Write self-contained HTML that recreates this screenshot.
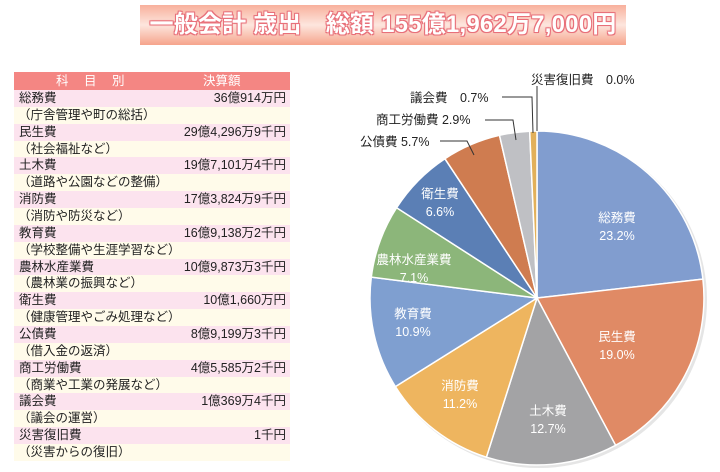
<!DOCTYPE html>
<html><head><meta charset="utf-8"><style>
body{margin:0;width:720px;height:472px;background:#fff;position:relative;overflow:hidden;font-family:"Liberation Sans","Noto Sans CJK JP",sans-serif;}
#title{position:absolute;left:140px;top:5px;width:486px;height:40px;background:linear-gradient(#f8b09c,#fde6de 50%,#f6a48c);color:#fff;font-weight:bold;font-size:24px;line-height:40px;text-align:center;white-space:nowrap;letter-spacing:0.2px;text-shadow:-1px -1px 0 #e8707a,1px -1px 0 #e8707a,-1px 1px 0 #e8707a,1px 1px 0 #e8707a,0 0 2px #e8707a;}
#tbl{position:absolute;left:14px;top:72px;width:276px;}
.h{height:18px;background:#f48683;color:#fff;font-size:12.5px;line-height:18px;position:relative;}
.r{height:16.86px;font-size:12.5px;line-height:17px;color:#222;position:relative;white-space:nowrap;}
.a{background:#fce3ee;}.b{background:#fffbea;}
.r span{position:absolute;right:4px;top:0;}
.r i{font-style:normal;position:absolute;left:5px;}
.b i{left:4px;}
</style></head><body>
<div id="title">一般会計 歳出　総額 155億1,962万7,000円</div>
<div id="tbl">
<div class="h"><span style="position:absolute;left:42px;letter-spacing:6px">科 目 別</span><span style="position:absolute;left:189px">決算額</span></div>
<div class="r a"><i>総務費</i><span>36億914万円</span></div>
<div class="r b"><i>（庁舎管理や町の総括）</i></div>
<div class="r a"><i>民生費</i><span>29億4,296万9千円</span></div>
<div class="r b"><i>（社会福祉など）</i></div>
<div class="r a"><i>土木費</i><span>19億7,101万4千円</span></div>
<div class="r b"><i>（道路や公園などの整備）</i></div>
<div class="r a"><i>消防費</i><span>17億3,824万9千円</span></div>
<div class="r b"><i>（消防や防災など）</i></div>
<div class="r a"><i>教育費</i><span>16億9,138万2千円</span></div>
<div class="r b"><i>（学校整備や生涯学習など）</i></div>
<div class="r a"><i>農林水産業費</i><span>10億9,873万3千円</span></div>
<div class="r b"><i>（農林業の振興など）</i></div>
<div class="r a"><i>衛生費</i><span>10億1,660万円</span></div>
<div class="r b"><i>（健康管理やごみ処理など）</i></div>
<div class="r a"><i>公債費</i><span>8億9,199万3千円</span></div>
<div class="r b"><i>（借入金の返済）</i></div>
<div class="r a"><i>商工労働費</i><span>4億5,585万2千円</span></div>
<div class="r b"><i>（商業や工業の発展など）</i></div>
<div class="r a"><i>議会費</i><span>1億369万4千円</span></div>
<div class="r b"><i>（議会の運営）</i></div>
<div class="r a"><i>災害復旧費</i><span>1千円</span></div>
<div class="r b"><i>（災害からの復旧）</i></div>
</div>
<svg width="720" height="472" style="position:absolute;left:0;top:0" font-family="Liberation Sans, Noto Sans CJK JP, sans-serif" font-size="12.5">
<circle cx="539" cy="300" r="168" fill="#ccc" opacity="0.5"/>
<g stroke="#fff" stroke-width="1.5">
<path d="M537,298 L537,131 A167,167 0 0 1 702.9,279.1Z" fill="#819dcf"/>
<path d="M537,298 L702.9,279.1 A167,167 0 0 1 615.6,445.3Z" fill="#e08a65"/>
<path d="M537,298 L615.6,445.3 A167,167 0 0 1 486.4,457.2Z" fill="#a3a3a5"/>
<path d="M537,298 L486.4,457.2 A167,167 0 0 1 395.4,386.6Z" fill="#eeb55f"/>
<path d="M537,298 L395.4,386.6 A167,167 0 0 1 371.3,277.1Z" fill="#7f9fd0"/>
<path d="M537,298 L371.3,277.1 A167,167 0 0 1 396.6,207.7Z" fill="#8cb67a"/>
<path d="M537,298 L396.6,207.7 A167,167 0 0 1 444.9,158.7Z" fill="#5b7fb5"/>
<path d="M537,298 L444.9,158.7 A167,167 0 0 1 499.5,135.3Z" fill="#cf7c50"/>
<path d="M537,298 L499.5,135.3 A167,167 0 0 1 529.7,131.2Z" fill="#bfc0c4"/>
<path d="M537,298 L529.7,131.2 A167,167 0 0 1 537,131Z" fill="#e2b05a"/>
</g>
<g fill="#fff" text-anchor="middle">
<text x="617" y="222">総務費</text><text x="617" y="240">23.2%</text>
<text x="617" y="341">民生費</text><text x="617" y="359">19.0%</text>
<text x="548" y="415">土木費</text><text x="548" y="433">12.7%</text>
<text x="460" y="390">消防費</text><text x="460" y="408">11.2%</text>
<text x="413" y="318">教育費</text><text x="413" y="336">10.9%</text>
<text x="414" y="264">農林水産業費</text><text x="414" y="282">7.1%</text>
<text x="440" y="198">衛生費</text><text x="440" y="216">6.6%</text>
</g>
<g fill="#222">
<text x="531" y="84">災害復旧費　0.0%</text>
<text x="410" y="102">議会費　0.7%</text>
<text x="376" y="124">商工労働費 2.9%</text>
<text x="360" y="146">公債費 5.7%</text>
</g>
<g fill="none" stroke="#333" stroke-width="1">
<polyline points="502,97 532,97 533,133"/>
<line x1="537" y1="86" x2="537" y2="131"/>
<polyline points="485,120 513,120 516,140"/>
<polyline points="440,141 467,141 474,155"/>
</g>
</svg>
</body></html>
